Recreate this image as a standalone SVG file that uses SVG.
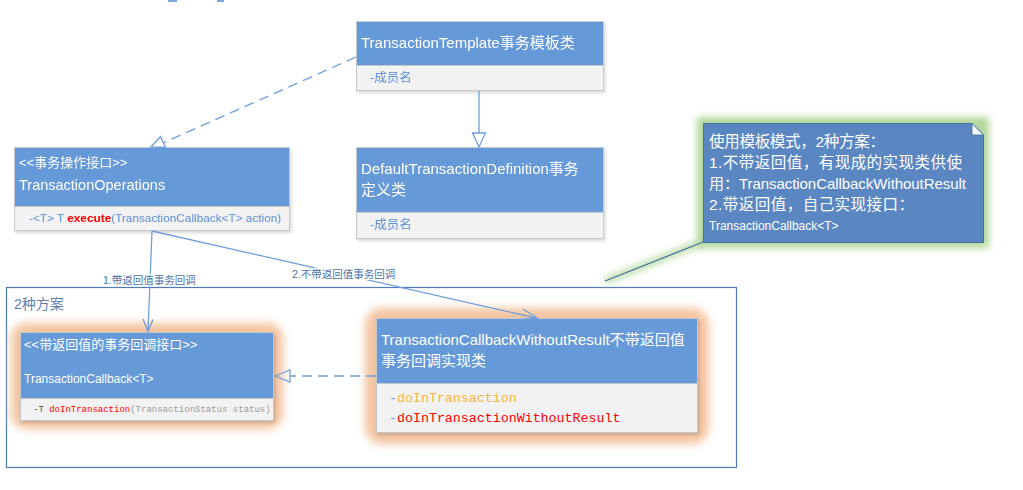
<svg xmlns="http://www.w3.org/2000/svg" width="1023" height="490" viewBox="0 0 1023 490">
<defs>
<style>
.hdr{fill:#6699d8;stroke:#c4c9d0;stroke-width:1}
.bdy{fill:#f2f2f2;stroke:#c4c9d0;stroke-width:1}
.t{font-family:"Liberation Sans","Noto Sans CJK SC",sans-serif}
.w{fill:#ffffff}
.mem{fill:#5b8fd6;font-size:12.5px}
.mono{font-family:"Liberation Mono","Noto Sans CJK SC",monospace}
.conn{fill:none;stroke:#6f9edc;stroke-width:1.3}
.lbl{fill:#4d73a8;font-size:10.5px}
.glow{fill:#f4c4a0}
</style>
<filter id="sh" x="-10%" y="-10%" width="130%" height="140%">
<feDropShadow dx="1.5" dy="2" stdDeviation="1.5" flood-color="#000" flood-opacity="0.15"/>
</filter>
<filter id="blur5" x="-20%" y="-30%" width="140%" height="160%">
<feGaussianBlur stdDeviation="4"/>
</filter>
<filter id="blur3" x="-20%" y="-30%" width="140%" height="160%">
<feGaussianBlur stdDeviation="3.5"/>
</filter>
</defs>
<rect width="1023" height="490" fill="#ffffff"/>
<rect x="168" y="0" width="9" height="2" fill="#7ea9e0"/>
<rect x="217" y="0" width="7" height="2" fill="#7ea9e0"/>

<g id="group-frame">
<rect x="6.5" y="287.5" width="730" height="180" fill="none" stroke="#4f7bb5" stroke-width="1.2"/>
<text class="t" x="14" y="309" font-size="14" fill="#5b7fae">2种方案</text>
</g>

<g id="TransactionTemplate" filter="url(#sh)">
<rect class="hdr" x="356.5" y="21.5" width="247" height="44"/>
<rect class="bdy" x="356.5" y="65.5" width="247" height="25"/>
<text class="t w" x="361" y="48" font-size="15">TransactionTemplate事务模板类</text>
<text class="t mem" x="370" y="82">-成员名</text>
</g>

<g id="DefaultTransactionDefinition" filter="url(#sh)">
<rect class="hdr" x="356.5" y="147.5" width="247" height="65"/>
<rect class="bdy" x="356.5" y="212.5" width="247" height="26"/>
<text class="t w" x="361" y="174" font-size="15">DefaultTransactionDefinition事务</text>
<text class="t w" x="361" y="195" font-size="15">定义类</text>
<text class="t mem" x="370" y="229">-成员名</text>
</g>

<g id="TransactionOperations" filter="url(#sh)">
<rect class="hdr" x="14.5" y="147.5" width="275" height="59"/>
<rect class="bdy" x="14.5" y="206.5" width="275" height="24"/>
<text class="t w" x="19" y="167" font-size="13">&lt;&lt;事务操作接口&gt;&gt;</text>
<text class="t w" x="19" y="190" font-size="14.5">TransactionOperations</text>
<text class="t" x="29" y="222" font-size="11.8" fill="#5b8fd6">-&lt;T&gt; T <tspan fill="#ff0000" font-weight="bold">execute</tspan>(TransactionCallback&lt;T&gt; action)</text>
</g>

<g id="TransactionCallback">
<rect class="glow" x="11" y="323" width="272" height="106" rx="15" filter="url(#blur5)"/>
<g filter="url(#sh)">
<rect class="hdr" x="20.5" y="332.5" width="253" height="66"/>
<rect class="bdy" x="20.5" y="398.5" width="253" height="22"/>
</g>
<text class="t w" x="24" y="349" font-size="13">&lt;&lt;带返回值的事务回调接口&gt;&gt;</text>
<text class="t w" x="24" y="383" font-size="12">TransactionCallback&lt;T&gt;</text>
<text class="mono" x="33" y="412" font-size="9" fill="#9a9a9a"><tspan fill="#2f5f5f">-T </tspan><tspan fill="#ff0000">doInTransaction</tspan>(TransactionStatus status)</text>
</g>

<g id="TransactionCallbackWithoutResult">
<rect class="glow" x="365" y="308" width="344" height="136" rx="17" filter="url(#blur5)"/>
<g filter="url(#sh)">
<rect class="hdr" x="376.5" y="318.5" width="321" height="65"/>
<rect class="bdy" x="376.5" y="383.5" width="321" height="49"/>
</g>
<text class="t w" x="381" y="345" font-size="15">TransactionCallbackWithoutResult不带返回值</text>
<text class="t w" x="381" y="366" font-size="15">事务回调实现类</text>
<text class="mono" x="389" y="402" font-size="13.3" fill="#7a9ccc">-<tspan fill="#f5b342">doInTransaction</tspan></text>
<text class="mono" x="389" y="422" font-size="13.3" fill="#7a9ccc">-<tspan fill="#ff0000">doInTransactionWithoutResult</tspan></text>
</g>

<g id="note">
<rect x="697" y="117" width="292" height="131" fill="#b3d79b" filter="url(#blur3)"/>
<line x1="605" y1="281" x2="703" y2="242" stroke="#b3d79b" stroke-width="6" filter="url(#blur3)"/>
<line x1="605" y1="281" x2="703" y2="242" stroke="#41719c" stroke-width="1.2"/>
<path d="M703.5,123.5 L972,123.5 L983.5,135 L983.5,242.5 L703.5,242.5 Z" fill="#5a87c2" stroke="#41719c" stroke-width="1"/>
<path d="M972,123.5 L972,135 L983.5,135 Z" fill="#f4f7fb" stroke="#41719c" stroke-width="0.8"/>
<text class="t w" x="709" y="147" font-size="15.5" textLength="176">使用模板模式，2种方案：</text>
<text class="t w" x="709" y="168" font-size="15.5" textLength="253">1.不带返回值，有现成的实现类供使</text>
<text class="t w" x="709" y="189" font-size="15" textLength="257">用：TransactionCallbackWithoutResult</text>
<text class="t w" x="709" y="210" font-size="15.5" textLength="205">2.带返回值，自己实现接口：</text>
<text class="t w" x="709" y="230" font-size="12">TransactionCallback&lt;T&gt;</text>
</g>

<g id="connectors">
<line class="conn" x1="356" y1="57" x2="163" y2="143" stroke-dasharray="10,6"/>
<path class="conn" fill="#ffffff" d="M151,147 L160.5,136.5 L165.5,147.5 Z"/>
<line class="conn" x1="479" y1="91" x2="479" y2="133"/>
<path class="conn" fill="#ffffff" d="M479,147 L472.5,133 L485.5,133 Z"/>
<line class="conn" x1="376" y1="376" x2="290" y2="376" stroke-dasharray="10,6"/>
<path class="conn" fill="#ffffff" d="M275,376 L290,370 L290,382 Z"/>
<line class="conn" x1="152" y1="231" x2="148" y2="331"/>
<path class="conn" d="M143,319 L148,331.5 L153,319.5"/>
<line class="conn" x1="152" y1="231" x2="536" y2="318"/>
<path class="conn" d="M523,309 L537,318 L521,319.5"/>
<rect x="102" y="274" width="96" height="12" fill="#ffffff"/>
<text class="t lbl" x="103" y="284">1.带返回值事务回调</text>
<rect x="290" y="268" width="107" height="12" fill="#ffffff"/>
<text class="t lbl" x="292" y="278">2.不带返回值事务回调</text>
</g>
</svg>
